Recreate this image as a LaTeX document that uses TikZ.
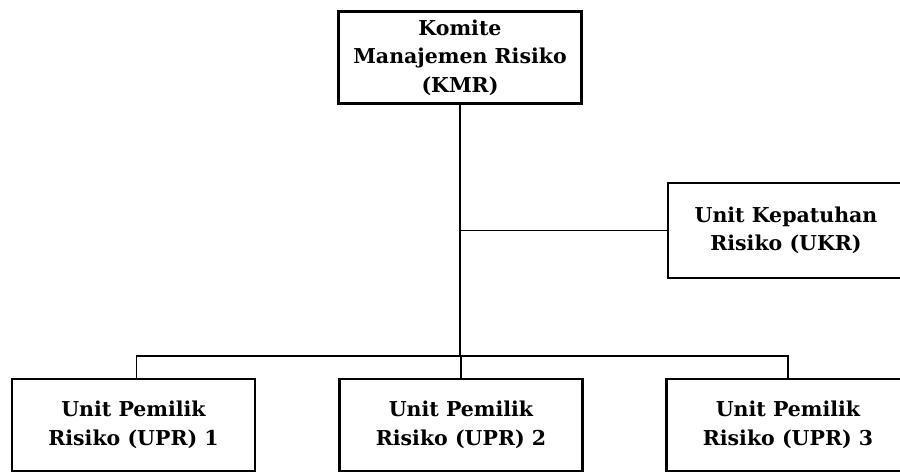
\documentclass[tikz,border=0pt]{standalone}
\usepackage{fontspec}
\setmainfont{DejaVu Serif}
\begin{document}
\begin{tikzpicture}[x=1pt, y=-1pt,
    unitbox/.style={draw=black, line width=2.6pt, minimum width=243pt, minimum height=92pt,
        align=center, inner sep=0pt, font=\bfseries\fontsize{20.5}{28.5}\selectfont},
    link/.style={draw=black, line width=1.3pt}]
    % 1. kanvas (ukuran gambar asli)
    \clip (0,0) rectangle (900,473);
    \fill[white] (0,0) rectangle (900,473);

    % 2. kotak-kotak unit
    \node[unitbox] (kmr) at (460,57.5) {Komite\\Manajemen Risiko\\(KMR)};
    \node[unitbox, minimum width=236pt, minimum height=95pt] (ukr) at (786,230.5) {Unit Kepatuhan\\Risiko (UKR)};
    \node[unitbox] (upr1) at (133.5,425) {Unit Pemilik\\Risiko (UPR) 1};
    \node[unitbox] (upr2) at (461,425) {Unit Pemilik\\Risiko (UPR) 2};
    \node[unitbox] (upr3) at (788,425) {Unit Pemilik\\Risiko (UPR) 3};

    % 3. garis penghubung
    \coordinate (bus) at (0,356);
    \draw[link] (kmr.south) -- (kmr.south |- bus);
    \draw[link] (kmr.south |- ukr.west) -- (ukr.west);
    \draw[link] ([xshift=3pt]upr1.north) -- ([xshift=3pt]upr1.north |- bus) -- (upr3.north |- bus) -- (upr3.north);
    \draw[link] (upr2.north) -- (upr2.north |- bus);
\end{tikzpicture}
\end{document}
